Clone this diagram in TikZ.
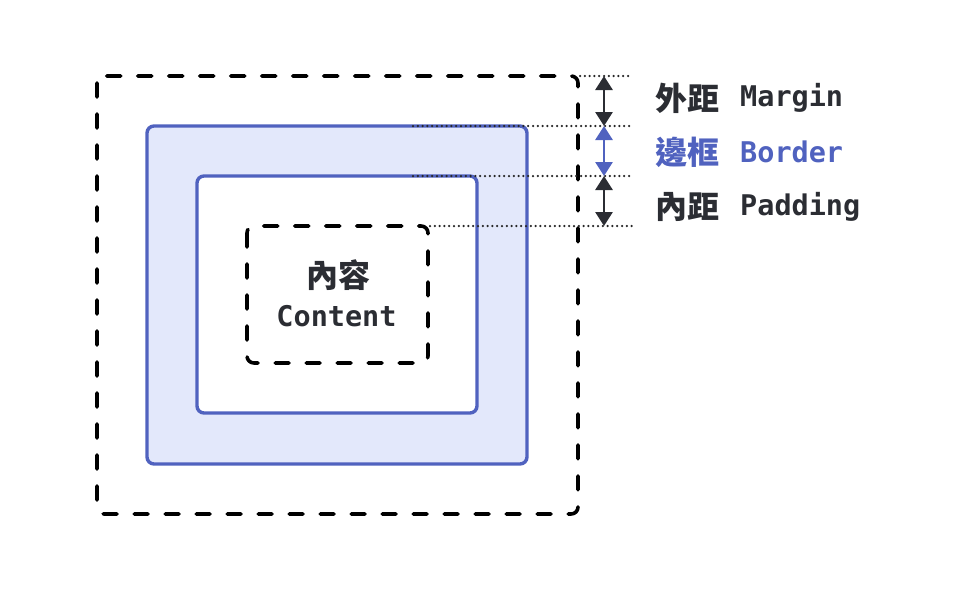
\documentclass[tikz,border=0pt]{standalone}
\usepackage{fontspec}
\setmonofont{DejaVu Sans Mono}
\newfontfamily\cjk{Noto Sans CJK TC}
\usetikzlibrary{arrows.meta}
\definecolor{bblue}{HTML}{5062BF}
\definecolor{bfill}{HTML}{E3E8FB}
\definecolor{ink}{HTML}{2B2D33}
\tikzset{
  dashbox/.style={draw=black, line width=3.6pt, dash pattern=on 14pt off 17pt, line cap=round, rounded corners=7pt},
  bluebox/.style={draw=bblue, line width=3.4pt, rounded corners=7pt},
  guide/.style={draw=black!85, line width=2.5pt, dash pattern=on 0pt off 4.8pt, line cap=round},
  dim/.style={line width=2.8pt, {Triangle[width=17pt,length=14pt]}-{Triangle[width=17pt,length=14pt]}},
  cj/.style={anchor=west, inner sep=0pt, font=\fontsize{32}{36}\selectfont\bfseries\cjk},
  mono/.style={inner sep=0pt, font=\fontsize{28.5}{32}\selectfont\ttfamily\bfseries}
}
\begin{document}
\begin{tikzpicture}[x=1pt,y=-1pt]
\useasboundingbox (0,0) rectangle (956,590);
% boxes
\draw[dashbox] (97,76) rectangle (578,514);
\draw[bluebox, fill=bfill] (147,126) rectangle (527,464);
\draw[bluebox, fill=white] (197,176) rectangle (477,413);
\draw[dashbox] (247,226) rectangle (428,363);
% guide coordinates
\coordinate (m0) at (580,76);  \coordinate (m1) at (632,76);
\coordinate (b0) at (413,126); \coordinate (b1) at (632,126);
\coordinate (p0) at (413,176); \coordinate (p1) at (632,176);
\coordinate (c0) at (430,226); \coordinate (c1) at (632,226);
\draw[guide] (m0) -- (m1);
\draw[guide] (b0) -- (b1);
\draw[guide] (p0) -- (p1);
\draw[guide] (c0) -- (c1);
\coordinate (a0) at (604,76);
\coordinate (a1) at (604,126);
\coordinate (a2) at (604,176);
\coordinate (a3) at (604,226);
\draw[dim, ink] (a0) -- (a1);
\draw[dim, bblue] (a1) -- (a2);
\draw[dim, ink] (a2) -- (a3);
% labels
\node[cj, text=ink] (lm) at (655,98) {外距};
\node[mono, anchor=west, text=ink] (lme) at (740,98) {Margin};
\node[cj, text=bblue] (lb) at (655,152) {邊框};
\node[mono, anchor=west, text=bblue] (lbe) at (740,152) {Border};
\node[cj, text=ink] (lp) at (655,207) {內距};
\node[mono, anchor=west, text=ink] (lpe) at (740,207) {Padding};
\node[font=\fontsize{32}{36}\selectfont\bfseries\cjk, text=ink, inner sep=0pt] (ct) at (338,275) {內容};
\node[mono, text=ink] (ce) at (336.5,316) {Content};
\end{tikzpicture}
\end{document}
